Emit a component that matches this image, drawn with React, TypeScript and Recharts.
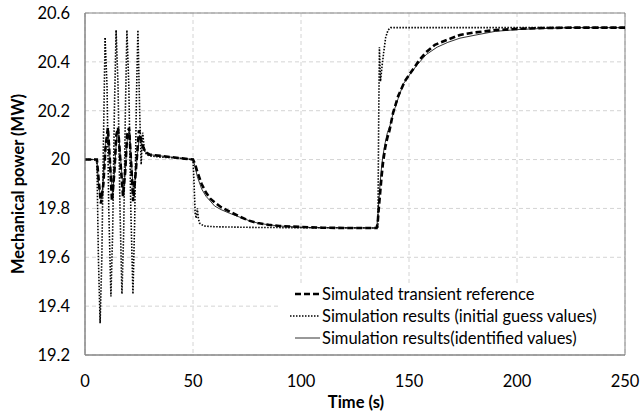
import {
  LineChart,
  Line,
  XAxis,
  YAxis,
  CartesianGrid,
  ReferenceArea,
  Legend,
  Label,
} from 'recharts';

// Simulated transient reference (dashed)
const refTime = [
  0, 5.5, 6.5, 7.4, 8.5, 9.5, 10.6, 11.5, 12.5, 13.6, 14.5, 15.3, 16.5, 17.6, 18.6, 19.5, 20.4, 21.4,
  22.3, 23.5, 25, 26, 27, 28, 30, 35, 40, 45, 50, 51, 52, 54, 56, 58, 60, 63, 67, 72, 76, 80, 85, 90,
  100, 110, 120, 135, 135.5, 136, 136.6, 137.3, 138, 139, 140, 141, 142.6, 145, 148, 151.9, 155, 158,
  162, 167.6, 173.6, 180, 190, 200, 210, 225, 250,
];
const refPower = [
  20, 20, 19.9, 19.82, 19.9, 20.05, 20.13, 20.0, 19.83, 19.95, 20.1, 20.13, 19.98, 19.85, 19.95, 20.1,
  20.13, 19.98, 19.83, 19.95, 20.12, 20.08, 20.05, 20.03, 20.02, 20.015, 20.01, 20.005, 20.0, 19.98,
  19.95, 19.9, 19.865, 19.84, 19.825, 19.805, 19.787, 19.765, 19.75, 19.74, 19.733, 19.728, 19.724,
  19.721, 19.72, 19.72, 19.74, 19.8, 19.86, 19.93, 19.99, 20.05, 20.09, 20.12, 20.19, 20.26, 20.32,
  20.37, 20.41, 20.44, 20.47, 20.49, 20.51, 20.52, 20.53, 20.535, 20.538, 20.54, 20.54,
];

// Simulation results with initial guess values (dotted)
const guessTime = [
  0, 5.5, 6.2, 7, 7.8, 8.5, 9.3, 10.2, 11, 12, 12.8, 13.6, 14.4, 15.3, 16.2, 17.1, 17.9, 18.7, 19.4,
  20.3, 21.2, 22.2, 23, 23.8, 24.5, 25.3, 26, 26.7, 27.5, 28.5, 30, 35, 40, 45, 50, 50.5, 51, 51.5, 52,
  52.5, 53, 55, 60, 80, 135.6, 136, 136.3, 136.8, 137.5, 138.3, 139.2, 140.3, 141.5, 250,
];
const guessPower = [
  20, 20, 19.6, 19.33, 19.6, 20.05, 20.5, 20.3, 19.8, 19.44, 19.7, 20.2, 20.53, 20.3, 19.8, 19.45, 19.7,
  20.2, 20.53, 20.3, 19.8, 19.45, 19.75, 20.25, 20.53, 20.2, 19.98, 20.11, 20.04, 20.02, 20.015, 20.01,
  20.008, 20.004, 20.0, 19.9, 19.78, 19.76, 19.8, 19.76, 19.74, 19.728, 19.725, 19.722, 19.72, 20.2,
  20.46, 20.32, 20.38, 20.44, 20.5, 20.53, 20.54, 20.54,
];

// Simulation results with identified values (solid)
const identTime = [
  0, 5.5, 6.5, 7.6, 8.5, 9.7, 10.8, 11.7, 12.8, 13.8, 14.7, 15.5, 16.7, 17.8, 18.8, 19.7, 20.6, 21.6,
  22.5, 23.7, 25.2, 26.2, 27, 28, 30, 35, 40, 45, 50, 51, 52, 54, 56, 58, 60, 63, 67, 72, 76, 80, 85,
  90, 100, 110, 135, 135.5, 136, 136.6, 137.3, 138, 139, 140, 141.2, 142.7, 145, 147.4, 150.5, 154,
  158, 163, 168, 173.6, 181, 190, 200, 210, 225, 250,
];
const identPower = [
  20, 20, 19.88, 19.84, 19.92, 20.08, 20.11, 19.98, 19.85, 19.97, 20.1, 20.12, 19.98, 19.86, 19.97,
  20.1, 20.12, 19.98, 19.85, 19.97, 20.1, 20.06, 20.04, 20.03, 20.02, 20.015, 20.01, 20.005, 20.0,
  19.97, 19.93, 19.88, 19.85, 19.83, 19.81, 19.795, 19.78, 19.763, 19.75, 19.74, 19.733, 19.728,
  19.723, 19.721, 19.72, 19.76, 19.82, 19.9, 19.97, 20.02, 20.07, 20.11, 20.14, 20.19, 20.25, 20.31,
  20.35, 20.39, 20.43, 20.46, 20.48, 20.497, 20.51, 20.525, 20.532, 20.536, 20.54, 20.54,
];

const xTicks = [0, 50, 100, 150, 200, 250];
const yTicks = [19.2, 19.4, 19.6, 19.8, 20, 20.2, 20.4, 20.6];

const zip = (t: number[], p: number[]) => t.map((time, i) => ({ t: time, p: p[i] }));

const refData = zip(refTime, refPower);
const guessData = zip(guessTime, guessPower);
const identData = zip(identTime, identPower);

const FONT = 'Lato, "Open Sans", sans-serif';
const FS = 16.5;

const legendItems = [
  { name: 'Simulated transient reference', dash: '6 3', width: 2.6, x1: 15, color: '#000' },
  { name: 'Simulation results (initial guess values)', dash: '1.5 1.5', width: 1.6, x1: 10, color: '#000' },
  { name: 'Simulation results(identified values)', dash: undefined, width: 1, x1: 15, color: '#333' },
];

const renderLegend = () => (
  <div style={{ background: '#fff', width: 344, height: 71, fontFamily: FONT, fontSize: FS, color: '#000' }}>
    {legendItems.map((item) => (
      <div key={item.name} style={{ display: 'flex', alignItems: 'center', height: 22 }}>
        <svg width={42} height={22} style={{ flex: 'none' }}>
          <line
            x1={item.x1}
            x2={40}
            y1={11}
            y2={11}
            stroke={item.color}
            strokeWidth={item.width}
            strokeDasharray={item.dash}
          />
        </svg>
        <span style={{ whiteSpace: 'nowrap' }}>{item.name}</span>
      </div>
    ))}
  </div>
);

export default function App() {
  return (
    <div style={{ position: 'absolute', left: 0, top: 0, width: 640, height: 420, background: '#fff', fontFamily: FONT }}>
      <LineChart width={640} height={420} margin={{ top: 13, right: 15, left: 0, bottom: 0 }}>
        <CartesianGrid stroke="#d4d4d4" strokeDasharray="4 3" />
        <XAxis
          dataKey="t"
          type="number"
          domain={[0, 250]}
          ticks={xTicks}
          height={65}
          tickLine={false}
          tickSize={6}
          tickMargin={14}
          axisLine={{ stroke: '#868686' }}
          tick={{ fill: '#000', fontSize: FS, fontFamily: FONT }}
        >
          <Label
            content={() => (
              <text x={356} y={402} textAnchor="middle" dominantBaseline="central" fontFamily={FONT} fontSize={FS} fontWeight="bold" fill="#000">
                Time (s)
              </text>
            )}
          />
        </XAxis>
        <YAxis
          type="number"
          domain={[19.2, 20.6]}
          ticks={yTicks}
          width={85}
          tickLine={false}
          tickSize={6}
          tickMargin={9}
          axisLine={{ stroke: '#868686' }}
          tickFormatter={(v: number) => String(v)}
          tick={{ fill: '#000', fontSize: FS, fontFamily: FONT }}
        >
          <Label
            content={() => (
              <text x={18} y={184} transform="rotate(-90 18 184)" textAnchor="middle" dominantBaseline="central" fontFamily={FONT} fontSize={FS} fontWeight="bold" fill="#000">
                Mechanical power (MW)
              </text>
            )}
          />
        </YAxis>
        <ReferenceArea x1={0} x2={250} y1={19.2} y2={20.6} fill="none" stroke="#868686" strokeWidth={1} />
        <Line
          data={identData}
          dataKey="p"
          type="linear"
          stroke="#333"
          strokeWidth={1}
          dot={false}
          isAnimationActive={false}
        />
        <Line
          data={guessData}
          dataKey="p"
          type="linear"
          stroke="#000"
          strokeWidth={1.6}
          strokeDasharray="1.5 1.5"
          dot={false}
          isAnimationActive={false}
        />
        <Line
          data={refData}
          dataKey="p"
          type="linear"
          stroke="#000"
          strokeWidth={2.6}
          strokeDasharray="6 3"
          dot={false}
          isAnimationActive={false}
        />
        <Legend
          layout="vertical"
          align="center"
          verticalAlign="middle"
          content={renderLegend}
          wrapperStyle={{ left: 280, top: 283, width: 344, height: 71 }}
        />
      </LineChart>
    </div>
  );
}
